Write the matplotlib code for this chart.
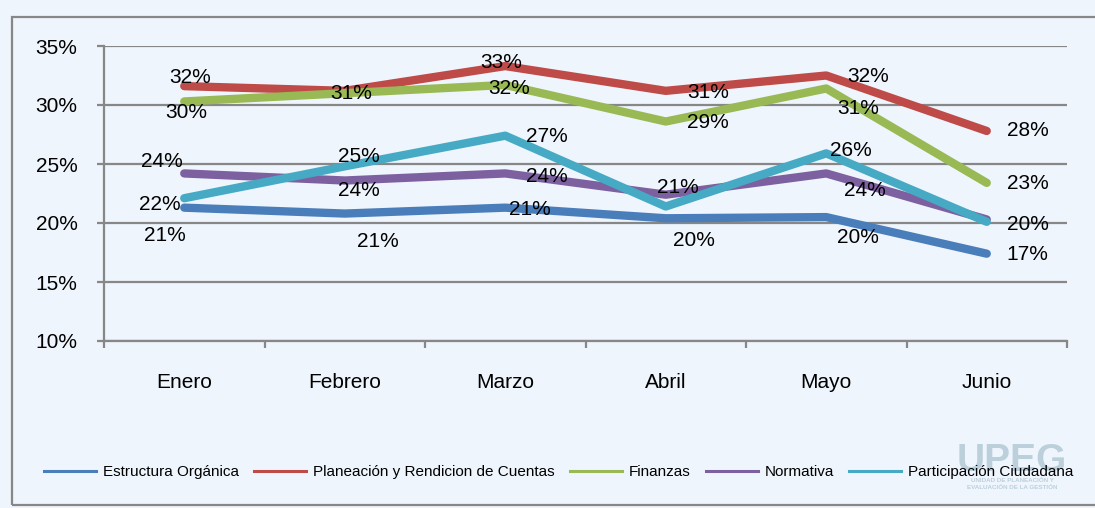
import matplotlib
matplotlib.use("Agg")
from matplotlib import pyplot as plt
from matplotlib.patches import Rectangle
from matplotlib.lines import Line2D

# data
months = ["Enero", "Febrero", "Marzo", "Abril", "Mayo", "Junio"]
series_names = ["Estructura Orgánica", "Planeación y Rendicion de Cuentas",
                "Finanzas", "Normativa", "Participación Ciudadana"]
estructura = [21.3, 20.8, 21.3, 20.4, 20.5, 17.4]
planeacion = [31.6, 31.2, 33.3, 31.2, 32.5, 27.8]
finanzas = [30.3, 31.0, 31.7, 28.6, 31.4, 23.4]
normativa = [24.2, 23.6, 24.2, 22.4, 24.2, 20.3]
participacion = [22.1, 24.8, 27.4, 21.4, 25.9, 20.1]
y_ticks = [10, 15, 20, 25, 30, 35]

colors = ["#4A7EBB", "#BE4B48", "#98B954", "#7D60A0", "#46AAC5"]
all_values = [estructura, planeacion, finanzas, normativa, participacion]

# label offsets in pixels (dx, dy), Excel-like manual placement
label_offsets = [
    [(-19, -28), (33, -28), (25, -2), (28, -22), (32, -20), (41, -1)],
    [(6, 9), (6, -2), (-4, 4), (42, -2), (42, -1), (41, 0)],
    [(2, -11), (6, 0), (4, -4), (42, -1), (32, -20), (41, -1)],
    [(-22, 12), (14, -10), (42, -3), (12, 8), (39, -17), (41, -6)],
    [(-24, -6), (14, 10), (42, -1), (12, 19), (25, 3), (41, -3)],
]
# labels hidden under another one in the reference
hidden = {(1, 1), (3, 3), (3, 5)}

plt.rcParams["font.family"] = ["Liberation Sans", "DejaVu Sans"]

bg = "#EFF5FC"
grid_c = "#878787"

fig = plt.figure(figsize=(10.95, 5.08), dpi=100, facecolor=bg)
W, H = 1095, 508
ax = fig.add_axes([104 / W, 1 - 341 / H, (1067 - 104) / W, (341 - 46) / H])
ax.set_facecolor("none")

# outer frame
fig.patches.append(Rectangle((12 / W, 1 - 505 / H), 1.2, (505 - 17) / H,
                             transform=fig.transFigure, fill=False,
                             edgecolor=grid_c, linewidth=1.6, zorder=0))

x = list(range(len(months)))
for si, (vals, c, offs) in enumerate(zip(all_values, colors, label_offsets)):
    ax.plot(x, vals, color=c, linewidth=6, solid_capstyle="round", zorder=3)
    for xi, v, (dx, dy) in zip(x, vals, offs):
        if (si, xi) in hidden:
            continue
        ax.annotate("%d%%" % round(v), (xi, v), xytext=(dx, dy),
                    textcoords="offset pixels", ha="center", va="center",
                    fontsize=15, color="black", zorder=5)

ax.set_xlim(-0.5, len(months) - 0.5)
ax.set_ylim(10, 35)
ax.set_yticks(y_ticks)
ax.set_yticklabels(["%d%%" % t for t in y_ticks], fontsize=15)
ax.yaxis.grid(True, color=grid_c, linewidth=1.6, zorder=1)
ax.set_axisbelow(True)

ax.set_xticks([i - 0.5 for i in range(len(months) + 1)])
ax.set_xticklabels([])
ax.set_xticks(x, minor=True)
ax.set_xticklabels(months, minor=True, fontsize=15)
ax.tick_params(axis="x", which="major", length=5, width=1.6, color=grid_c)
ax.tick_params(axis="x", which="minor", length=0, pad=23)
ax.tick_params(axis="y", length=5, width=1.6, color=grid_c, pad=14)

for s in ["top", "right"]:
    ax.spines[s].set_visible(False)
for s in ["left", "bottom"]:
    ax.spines[s].set_color(grid_c)
    ax.spines[s].set_linewidth(1.6)

# faint logo watermark behind the legend
fig.text(1012 / W, 1 - 461 / H, "UPEG", fontsize=28, color="#BCD0DC",
         ha="center", va="center", fontweight="bold", zorder=0)
fig.text(1012 / W, 1 - 484 / H, "UNIDAD DE PLANEACIÓN Y\nEVALUACIÓN DE LA GESTIÓN",
         fontsize=4.5, color="#BCD0DC", ha="center", va="center",
         fontweight="bold", linespacing=1.4, zorder=0)

handles = [Line2D([0], [0], color=c, linewidth=2.2) for c in colors]
leg = fig.legend(handles, series_names, loc="center", ncol=5,
                 bbox_to_anchor=(559 / W, 1 - 472 / H), frameon=False,
                 fontsize=11, handlelength=3.4, handletextpad=0.45,
                 columnspacing=1.0)
leg.set_zorder(5)

fig.savefig("out.png", dpi=100, facecolor=bg)
